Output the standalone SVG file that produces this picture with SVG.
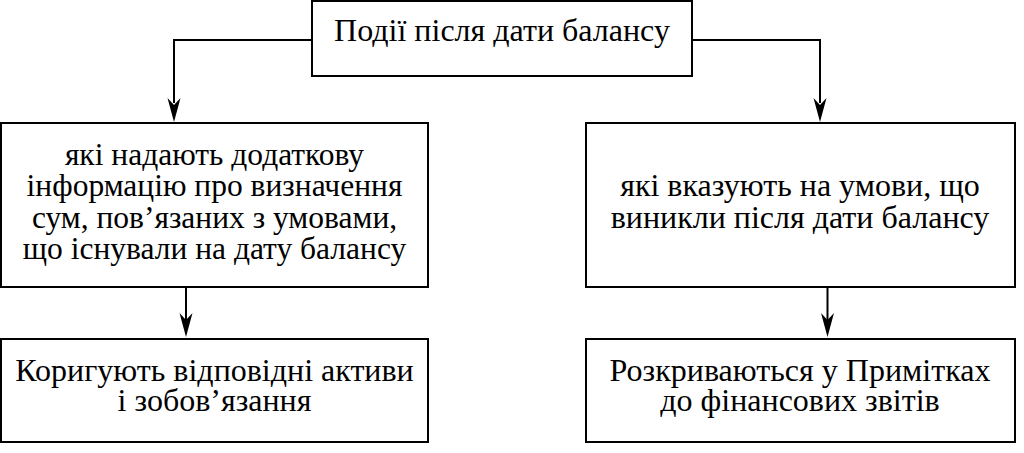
<svg xmlns="http://www.w3.org/2000/svg" width="1024" height="453" viewBox="0 0 1024 453">
<defs>
<style>
.box{fill:#fff;stroke:#000;stroke-width:2}
.t{font-family:"Liberation Serif","Times New Roman",serif;font-size:32px;fill:#000;text-anchor:middle}
.s{font-size:31.5px}
.c{fill:none;stroke:#000;stroke-width:2}
.h{fill:#000}
</style>
</defs>
<rect width="1024" height="453" fill="#fff"/>
<g id="connectors">
<path class="c" d="M312,40 H174 V103"/>
<path class="h" d="M167.5,98 L174,122 L180.5,98 L174,105 Z"/>
<path class="c" d="M692,40 H820 V103"/>
<path class="h" d="M813.5,98 L820,122 L826.5,98 L820,105 Z"/>
<path class="c" d="M186,287 V320"/>
<path class="h" d="M179.5,313 L186,337 L192.5,313 L186,320 Z"/>
<path class="c" d="M827.5,287 V320"/>
<path class="h" d="M821,313 L827.5,337 L834,313 L827.5,320 Z"/>
</g>
<g id="top">
<rect class="box" x="312" y="1" width="380" height="75"/>
<text class="t" x="502" y="41">Події після дати балансу</text>
</g>
<g id="left-mid">
<rect class="box" x="1" y="123" width="427" height="164"/>
<text class="t s" x="214.5" y="164.5">які надають додаткову</text>
<text class="t s" x="214.5" y="196">інформацію про визначення</text>
<text class="t s" x="214.5" y="227.5">сум, пов’язаних з умовами,</text>
<text class="t s" x="214.5" y="259">що існували на дату балансу</text>
</g>
<g id="right-mid">
<rect class="box" x="586" y="123" width="429" height="164"/>
<text class="t" x="800" y="196">які вказують на умови, що</text>
<text class="t" x="800" y="227.5">виникли після дати балансу</text>
</g>
<g id="left-bot">
<rect class="box" x="1" y="339" width="427" height="103"/>
<text class="t" x="214.5" y="381">Коригують відповідні активи</text>
<text class="t" x="214.5" y="411">і зобов’язання</text>
</g>
<g id="right-bot">
<rect class="box" x="586" y="339" width="429" height="103"/>
<text class="t" x="800" y="381">Розкриваються у Примітках</text>
<text class="t" x="800" y="411">до фінансових звітів</text>
</g>
</svg>
